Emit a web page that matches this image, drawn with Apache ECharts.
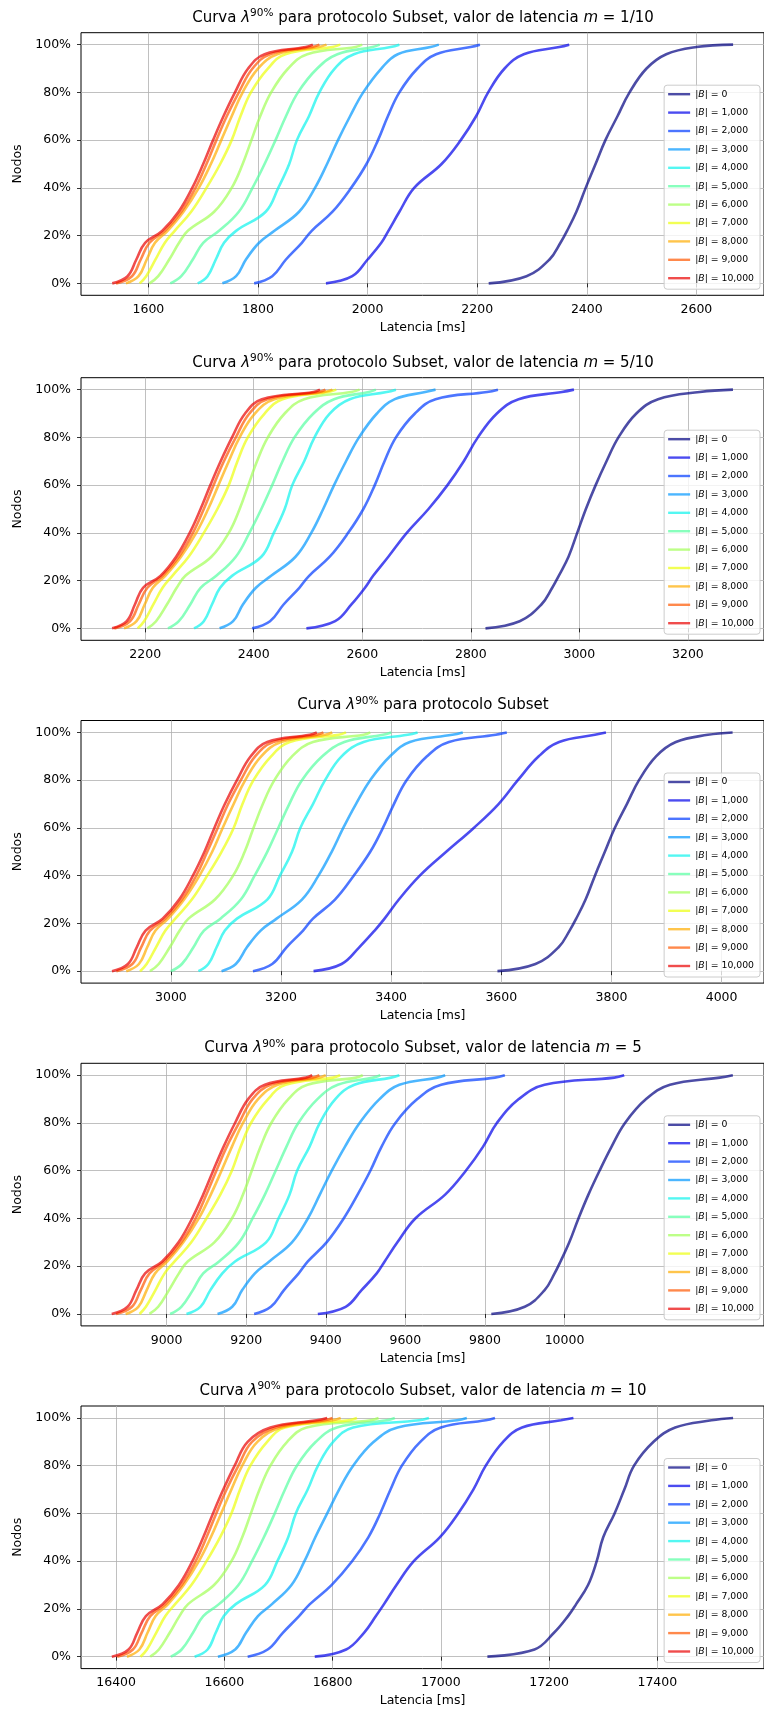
<!DOCTYPE html>
<html>
<head>
<meta charset="UTF-8">
<title>Curva lambda 90%</title>
<script src="https://cdn.jsdelivr.net/npm/echarts@6/dist/echarts.min.js"></script>
<style>
  html, body { margin: 0; padding: 0; background: #fff; }
  #main { width: 764px; height: 1712px; }
</style>
</head>
<body>
<div id="main"></div>
<script>
// percentiles of nodes (y) at which the latency of each curve was read
var levels = [0, 3, 10, 17, 22, 30, 40, 50, 60, 70, 80, 90, 96, 99, 100];
var groups = ['0', '1,000', '2,000', '3,000', '4,000', '5,000', '6,000', '7,000', '8,000', '9,000', '10,000'];
var yTicks = [0, 20, 40, 60, 80, 100];

var xTicks1 = [1600, 1800, 2000, 2200, 2400, 2600];
var xTicks2 = [2200, 2400, 2600, 2800, 3000, 3200];
var xTicks3 = [3000, 3200, 3400, 3600, 3800, 4000];
var xTicks4 = [9000, 9200, 9400, 9600, 9800, 10000];
var xTicks5 = [16400, 16600, 16800, 17000, 17200, 17400];

var mLabels = ['1/10', '5/10', null, '5', '10'];

// latency [ms] per |B| group (0 .. 10,000), one value per level
var lat1 = [
  [2221, 2290, 2332, 2352, 2364, 2381, 2398, 2416, 2434, 2456, 2478, 2509, 2545, 2600, 2667],
  [1924, 1972, 2000, 2025, 2038, 2058, 2085, 2135, 2170, 2198, 2220, 2250, 2285, 2350, 2368],
  [1793, 1826, 1851, 1880, 1898, 1936, 1970, 1998, 2019, 2037, 2058, 2091, 2125, 2188, 2205],
  [1735, 1760, 1778, 1802, 1830, 1875, 1904, 1926, 1946, 1968, 1992, 2025, 2055, 2115, 2130],
  [1690, 1708, 1723, 1738, 1760, 1814, 1837, 1857, 1871, 1893, 1912, 1940, 1975, 2042, 2058],
  [1640, 1660, 1681, 1700, 1729, 1765, 1790, 1812, 1832, 1851, 1873, 1908, 1945, 2009, 2022],
  [1602, 1618, 1638, 1656, 1672, 1720, 1752, 1772, 1788, 1804, 1824, 1855, 1890, 1978, 1990],
  [1584, 1596, 1613, 1630, 1648, 1678, 1706, 1731, 1752, 1768, 1787, 1818, 1850, 1936, 1950],
  [1559, 1582, 1597, 1612, 1635, 1664, 1692, 1714, 1733, 1752, 1772, 1800, 1835, 1911, 1925],
  [1541, 1570, 1586, 1602, 1630, 1660, 1686, 1706, 1724, 1743, 1765, 1790, 1822, 1899, 1912],
  [1534, 1562, 1578, 1594, 1625, 1655, 1680, 1700, 1718, 1737, 1758, 1782, 1812, 1887, 1900]
];
var lat2 = [
  [2827, 2890, 2930, 2950, 2962, 2980, 2996, 3012, 3030, 3050, 3072, 3105, 3145, 3222, 3283],
  [2497, 2550, 2580, 2605, 2620, 2648, 2682, 2722, 2757, 2787, 2813, 2848, 2888, 2968, 2990],
  [2397, 2430, 2455, 2484, 2502, 2540, 2574, 2602, 2623, 2641, 2662, 2697, 2735, 2830, 2850],
  [2337, 2362, 2380, 2404, 2432, 2477, 2506, 2528, 2548, 2570, 2594, 2627, 2660, 2716, 2735],
  [2290, 2308, 2323, 2338, 2360, 2414, 2437, 2457, 2471, 2493, 2512, 2540, 2577, 2645, 2662],
  [2242, 2262, 2283, 2302, 2331, 2367, 2392, 2414, 2434, 2453, 2475, 2510, 2548, 2612, 2625],
  [2204, 2220, 2240, 2258, 2274, 2322, 2354, 2374, 2390, 2406, 2426, 2457, 2493, 2580, 2595],
  [2186, 2198, 2215, 2232, 2250, 2280, 2308, 2333, 2354, 2370, 2389, 2420, 2453, 2538, 2552],
  [2161, 2184, 2199, 2214, 2237, 2266, 2294, 2316, 2335, 2354, 2374, 2402, 2438, 2530, 2545],
  [2143, 2172, 2188, 2204, 2232, 2262, 2288, 2308, 2326, 2345, 2367, 2392, 2425, 2520, 2532],
  [2139, 2166, 2181, 2196, 2228, 2257, 2282, 2302, 2320, 2339, 2360, 2384, 2415, 2510, 2522]
];
var lat3 = [
  [3593, 3662, 3704, 3724, 3736, 3753, 3770, 3788, 3806, 3828, 3850, 3881, 3917, 3975, 4020],
  [3259, 3310, 3342, 3370, 3388, 3414, 3452, 3500, 3550, 3595, 3630, 3668, 3705, 3770, 3790],
  [3149, 3184, 3210, 3240, 3258, 3298, 3332, 3362, 3385, 3405, 3428, 3465, 3505, 3590, 3610],
  [3092, 3118, 3138, 3163, 3192, 3238, 3268, 3292, 3313, 3336, 3362, 3398, 3434, 3511, 3530],
  [3050, 3068, 3083, 3098, 3120, 3175, 3198, 3220, 3235, 3258, 3280, 3310, 3350, 3430, 3448],
  [3000, 3020, 3041, 3060, 3090, 3127, 3152, 3175, 3195, 3215, 3238, 3275, 3315, 3385, 3400],
  [2962, 2978, 2998, 3016, 3032, 3080, 3113, 3134, 3150, 3167, 3188, 3220, 3258, 3350, 3362],
  [2944, 2956, 2973, 2990, 3008, 3038, 3066, 3092, 3114, 3130, 3150, 3182, 3216, 3305, 3318],
  [2919, 2942, 2957, 2972, 2995, 3024, 3052, 3075, 3094, 3114, 3135, 3164, 3200, 3280, 3293],
  [2901, 2930, 2946, 2962, 2990, 3020, 3046, 3066, 3085, 3104, 3127, 3153, 3186, 3265, 3277],
  [2893, 2922, 2938, 2954, 2985, 3015, 3040, 3061, 3079, 3098, 3120, 3145, 3175, 3252, 3265]
];
var lat4 = [
  [9816, 9900, 9950, 9975, 9990, 10012, 10035, 10060, 10088, 10118, 10152, 10205, 10265, 10390, 10423],
  [9380, 9450, 9490, 9528, 9548, 9580, 9625, 9700, 9752, 9795, 9830, 9885, 9950, 10125, 10150],
  [9220, 9262, 9295, 9332, 9355, 9402, 9445, 9480, 9512, 9540, 9575, 9630, 9690, 9825, 9850],
  [9128, 9165, 9190, 9222, 9258, 9315, 9355, 9385, 9415, 9448, 9485, 9535, 9585, 9680, 9700],
  [9050, 9085, 9110, 9140, 9172, 9250, 9281, 9309, 9328, 9359, 9385, 9424, 9472, 9564, 9585],
  [9009, 9037, 9066, 9092, 9132, 9182, 9216, 9247, 9274, 9301, 9331, 9379, 9430, 9519, 9537],
  [8957, 8979, 9006, 9031, 9053, 9120, 9164, 9192, 9214, 9236, 9263, 9306, 9354, 9476, 9493],
  [8932, 8948, 8972, 8995, 9020, 9062, 9100, 9135, 9164, 9186, 9212, 9255, 9299, 9418, 9436],
  [8897, 8929, 8950, 8971, 9002, 9042, 9081, 9111, 9138, 9164, 9192, 9230, 9279, 9383, 9400],
  [8873, 8913, 8935, 8957, 8995, 9037, 9073, 9100, 9125, 9151, 9182, 9216, 9261, 9367, 9384],
  [8862, 8902, 8924, 8946, 8989, 9030, 9064, 9092, 9117, 9143, 9172, 9205, 9247, 9350, 9366]
];
var lat5 = [
  [17086, 17173, 17209, 17235, 17250, 17272, 17288, 17300, 17321, 17339, 17357, 17393, 17433, 17500, 17540],
  [16767, 16825, 16858, 16880, 16895, 16918, 16950, 16998, 17032, 17060, 17083, 17115, 17150, 17222, 17245],
  [16643, 16680, 16708, 16738, 16758, 16798, 16836, 16866, 16888, 16907, 16928, 16962, 17000, 17083, 17100],
  [16588, 16620, 16640, 16662, 16688, 16724, 16748, 16768, 16790, 16812, 16838, 16876, 16920, 17030, 17048],
  [16545, 16569, 16584, 16599, 16621, 16675, 16698, 16718, 16732, 16754, 16773, 16801, 16838, 16960, 16978],
  [16501, 16521, 16542, 16561, 16590, 16626, 16651, 16673, 16693, 16712, 16734, 16769, 16808, 16900, 16915],
  [16463, 16479, 16499, 16517, 16533, 16581, 16613, 16633, 16649, 16665, 16685, 16716, 16752, 16870, 16885],
  [16445, 16457, 16474, 16491, 16509, 16539, 16567, 16592, 16613, 16629, 16648, 16679, 16712, 16830, 16845],
  [16420, 16443, 16458, 16473, 16496, 16525, 16553, 16575, 16594, 16613, 16633, 16661, 16705, 16800, 16815],
  [16402, 16431, 16447, 16463, 16491, 16521, 16547, 16567, 16585, 16604, 16626, 16651, 16695, 16785, 16800],
  [16392, 16423, 16439, 16455, 16486, 16516, 16541, 16561, 16579, 16598, 16619, 16643, 16685, 16770, 16790]
];

// jet colormap sampled at i/11, alpha 0.7
var colors = [
  'rgba(0,0,128,0.7)', 'rgba(0,0,233,0.7)', 'rgba(0,58,255,0.7)', 'rgba(0,151,255,0.7)',
  'rgba(11,243,236,0.7)', 'rgba(86,255,161,0.7)', 'rgba(161,255,86,0.7)', 'rgba(236,255,11,0.7)',
  'rgba(255,173,0,0.7)', 'rgba(255,87,0,0.7)', 'rgba(233,1,0,0.7)'
];

var FONT = 'DejaVu Sans';
var panels = [
  { top: 32.7,   xMin: 1477,    xMax: 2723.4,  ticks: xTicks1, lat: lat1 },
  { top: 377.7,  xMin: 2081.7,  xMax: 3340.2,  ticks: xTicks2, lat: lat2 },
  { top: 720.5,  xMin: 2836.8,  xMax: 4077,    ticks: xTicks3, lat: lat3 },
  { top: 1063.3, xMin: 8784.9,  xMax: 10501.3, ticks: xTicks4, lat: lat4 },
  { top: 1406,   xMin: 16335.1, xMax: 17597.1, ticks: xTicks5, lat: lat5 }
];
var plotH = 262.6, plotLeft = 81, plotW = 684;

var grids = [], xAxes = [], yAxes = [], legends = [], series = [], texts = [];
var names = groups.map(function (g) { return '|B| = ' + g; });

panels.forEach(function (p, i) {
  grids.push({
    left: plotLeft, top: p.top, width: plotW, height: plotH,
    show: true, borderColor: '#000', borderWidth: 1, backgroundColor: 'transparent'
  });
  xAxes.push({
    gridIndex: i, type: 'value', min: p.xMin, max: p.xMax,
    axisLine: { show: false },
    axisTick: { show: true, length: 4, customValues: p.ticks, lineStyle: { color: '#000', width: 0.8 } },
    axisLabel: {
      customValues: p.ticks, margin: 8, color: '#000', fontSize: 12.5, fontFamily: FONT,
      formatter: function (v) { return String(Math.round(v)); }
    },
    splitLine: { show: true, lineStyle: { color: '#b0b0b0', width: 0.8 } },
    name: 'Latencia [ms]', nameLocation: 'middle', nameGap: 26,
    nameTextStyle: { color: '#000', fontSize: 12.5, fontFamily: FONT }
  });
  yAxes.push({
    gridIndex: i, type: 'value', min: -5, max: 105,
    axisLine: { show: false },
    axisTick: { show: true, length: 4, customValues: yTicks, lineStyle: { color: '#000', width: 0.8 } },
    axisLabel: { customValues: yTicks, margin: 10, formatter: '{value}%', color: '#000', fontSize: 12.5, fontFamily: FONT },
    splitLine: { show: true, lineStyle: { color: '#b0b0b0', width: 0.8 } },
    name: 'Nodos', nameLocation: 'middle', nameGap: 56,
    nameTextStyle: { color: '#000', fontSize: 12.5, fontFamily: FONT }
  });
  legends.push({
    orient: 'vertical', right: 4, top: p.top + 52.5,
    data: names, selectedMode: false,
    icon: 'rect', itemWidth: 22, itemHeight: 2.4, itemGap: 8.4,
    padding: [4, 6, 6, 4],
    backgroundColor: 'rgba(255,255,255,0.8)', borderColor: '#cccccc', borderWidth: 1, borderRadius: 3,
    textStyle: {
      color: '#000', fontSize: 9.3, fontFamily: FONT, lineHeight: 10,
      rich: {
        n: { fontSize: 9.3, fontFamily: FONT, lineHeight: 10, color: '#000' },
        i: { fontSize: 9.3, fontFamily: FONT, fontStyle: 'italic', lineHeight: 10, color: '#000' }
      }
    },
    formatter: function (name) {
      return '{n||}{i|B}{n|| = ' + name.split('= ')[1] + '}';
    }
  });

  var m = mLabels[i];
  var t = '{t|Curva }{i|λ}{s|90%}{t| para protocolo Subset}';
  if (m) t = '{t|Curva }{i|λ}{s|90%}{t| para protocolo Subset, valor de latencia }{i|m}{t| = ' + m + '}';
  texts.push({
    type: 'text', x: plotLeft + plotW / 2, y: p.top - 15, silent: true,
    style: {
      text: t, align: 'center', verticalAlign: 'middle',
      rich: {
        t: { fontSize: 15, fontFamily: FONT, lineHeight: 20, fill: '#000' },
        i: { fontSize: 15, fontFamily: FONT, fontStyle: 'italic', lineHeight: 20, fill: '#000' },
        s: { fontSize: 10.5, fontFamily: FONT, lineHeight: 11, verticalAlign: 'top', fill: '#000' }
      }
    }
  });

  p.lat.forEach(function (xs, g) {
    series.push({
      type: 'line', name: names[g], xAxisIndex: i, yAxisIndex: i,
      data: xs.map(function (x, k) { return [x, levels[k]]; }),
      symbol: 'none', smooth: 0.4,
      color: colors[g],
      lineStyle: { width: 2.6, color: colors[g] },
      emphasis: { disabled: true }, silent: true
    });
  });
});

var chart = echarts.init(document.getElementById('main'));
chart.setOption({
  animation: false,
  backgroundColor: '#fff',
  grid: grids, xAxis: xAxes, yAxis: yAxes, legend: legends,
  graphic: texts, series: series
});
</script>
</body>
</html>
